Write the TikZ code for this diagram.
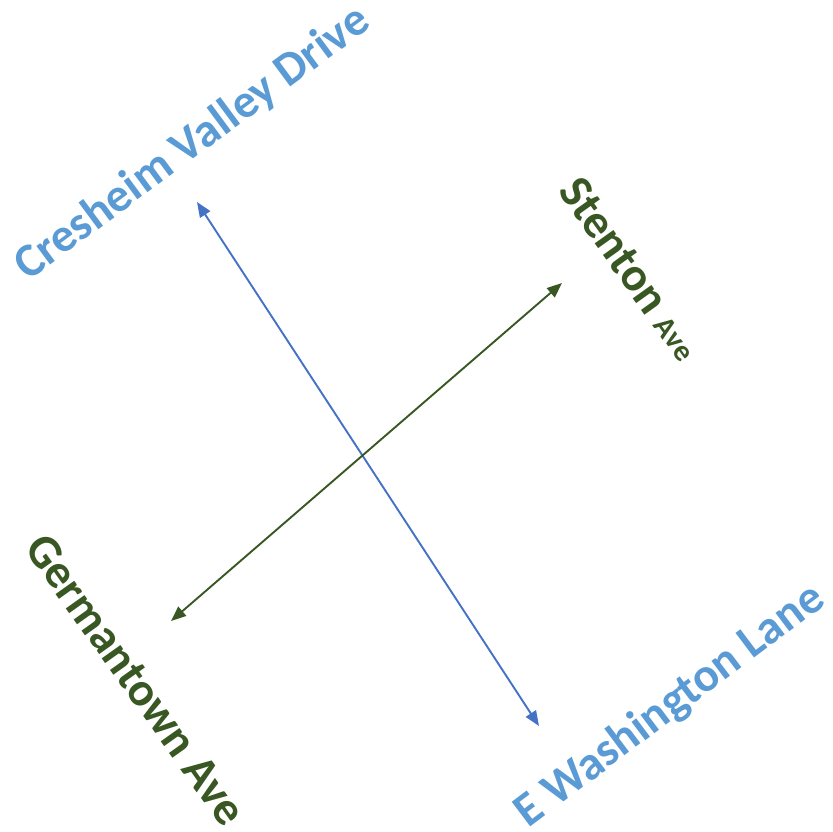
\documentclass[tikz,border=0pt]{standalone}
\usepackage{fontspec}
\setmainfont{Carlito}
\usetikzlibrary{arrows.meta}
\definecolor{lblue}{HTML}{5B9BD5}
\definecolor{ablue}{HTML}{4472C4}
\definecolor{dgreen}{HTML}{385723}
\tikzset{
  street/.style={inner sep=0pt, font=\fontsize{47.5}{50}\selectfont\bfseries},
  road/.style={line width=1.9pt, {Triangle[length=15pt,width=12pt]}-{Triangle[length=15pt,width=12pt]}}
}
\begin{document}
\begin{tikzpicture}[x=1pt,y=-1pt]
\useasboundingbox (0,0) rectangle (833,831);
\coordinate (b1) at (197,202);
\coordinate (b2) at (539,726);
\coordinate (g1) at (562,283);
\coordinate (g2) at (171,621);
\draw[road, ablue, fill=ablue] (b1) -- (b2);
\draw[road, dgreen, fill=dgreen] (g1) -- (g2);
\node[street, text=lblue, anchor=base, rotate=36.5] (cv) at (200.5,154) {Cresheim Valley Drive};
\node[street, text=lblue, anchor=base, rotate=37] (ew) at (678,716) {E Washington Lane};
\node[street, text=dgreen, anchor=base west, rotate=-54.5] (st) at (557,191) {Stenton {\fontsize{30}{32}\selectfont Ave}};
\node[street, text=dgreen, anchor=base west, rotate=-54.6] (ga) at (23.5,548) {Germantown Ave};
\end{tikzpicture}
\end{document}
